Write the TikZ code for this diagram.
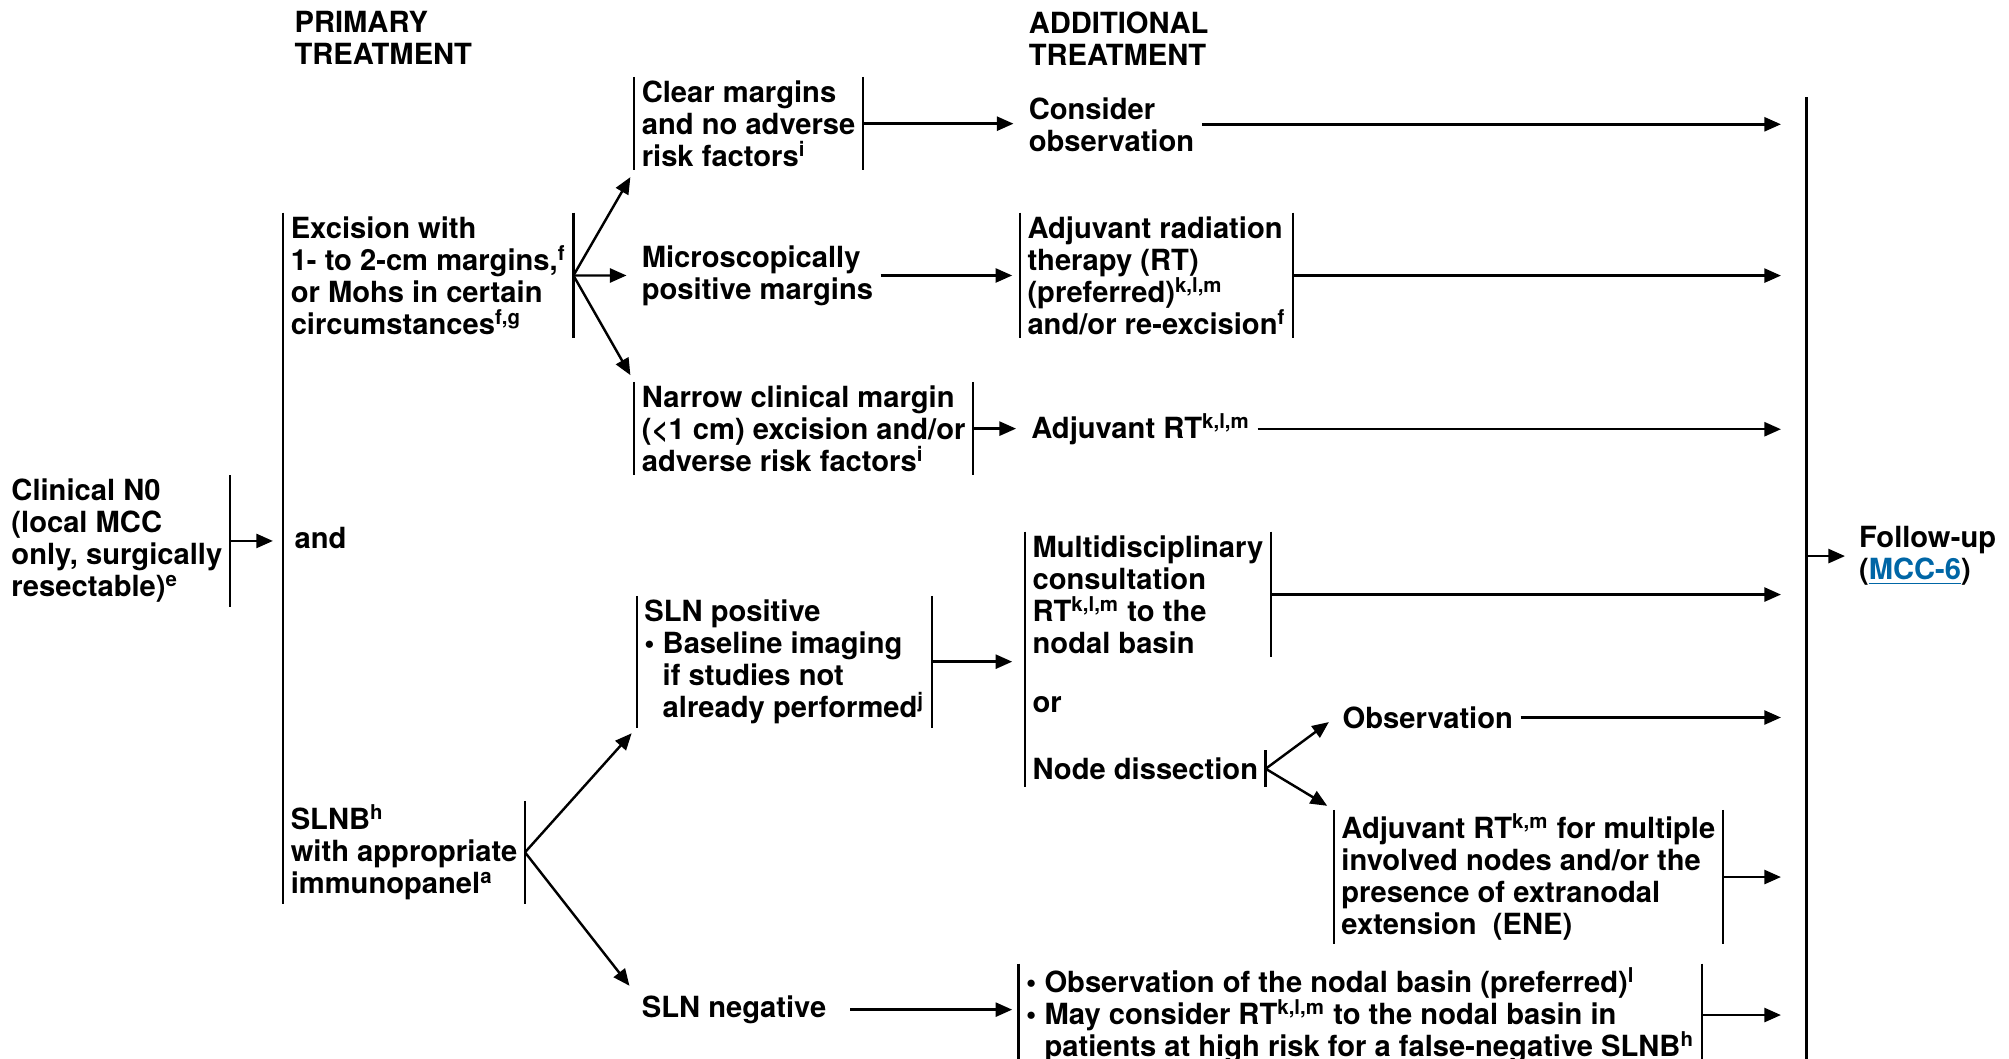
\documentclass[tikz,border=0pt]{standalone}
\usepackage{fontspec}
\setmainfont{TeX Gyre Heros}
\usetikzlibrary{arrows.meta}
\definecolor{linkblue}{RGB}{0,102,166}
\newcommand{\nccn}{\fontsize{11.375}{12.5}\selectfont\bfseries}
\newcommand{\blt}{\textbullet\ }
\newcommand{\bltind}{\hphantom{\textbullet\ }}

\begin{document}
\begin{tikzpicture}[x=0.5pt, y=-0.5pt, line width=0.95pt,
	every node/.style={font=\nccn, align=left, inner xsep=2.5pt, inner ysep=1pt},
	lb/.style={append after command={(\tikzlastnode.north west) edge (\tikzlastnode.south west)}},
	rb/.style={append after command={(\tikzlastnode.north east) edge (\tikzlastnode.south east)}},
	bx/.style={lb, rb},
	arr/.style={-{Triangle[length=6.5pt,width=5.5pt]}, shorten >=3pt}]
\useasboundingbox (0,0) rectangle (1568,826);
% headings
\node[anchor=north west] (prim) at (224,6) {PRIMARY\\TREATMENT};
\node[anchor=north west] (addl) at (797,6) {ADDITIONAL\\TREATMENT};
% primary treatment
\node[rb, anchor=north west] (clin) at (3,371) {Clinical N0\\(local MCC\\only, surgically\\resectable)\textsuperscript{e}};
\node[rb, anchor=north west] (exc) at (221,166) {Excision with\\1- to 2-cm margins,\textsuperscript{f}\\or Mohs in certain\\circumstances\textsuperscript{f,g}};
\node[anchor=west] (andtxt) at (224,420) {and};
\node[rb, anchor=north west] (slnb) at (221,625) {SLNB\textsuperscript{h}\\with appropriate\\immunopanel\textsuperscript{a}};
\coordinate (andbar) at (221,420);
\draw (exc.north west) -- (slnb.south west);
% margins
\node[bx, anchor=north west] (clear) at (495,60) {Clear margins\\and no adverse\\risk factors\textsuperscript{i}};
\node[anchor=west] (micro) at (495,215) {Microscopically\\positive margins};
\node[bx, anchor=north west] (narrow) at (495,298) {Narrow clinical margin\\(<1 cm) excision and/or\\adverse risk factors\textsuperscript{i}};
\node[anchor=west] (consider) at (797,97) {Consider\\observation};
\node[bx, anchor=north west] (radiation) at (796,166) {Adjuvant radiation\\therapy (RT)\\(preferred)\textsuperscript{k,l,m}\\and/or re-excision\textsuperscript{f}};
\node[anchor=west] (adjrt) at (799,335) {Adjuvant RT\textsuperscript{k,l,m}};
% sentinel node
\node[bx, anchor=north west] (slnpos) at (497,465) {SLN positive\\\blt Baseline imaging\\\bltind if studies not\\\bltind already performed\textsuperscript{j}};
\node[rb, anchor=north west] (multi) at (800,415) {Multidisciplinary\\consultation\\RT\textsuperscript{k,l,m} to the\\nodal basin};
\node[anchor=west] (ortxt) at (800,550) {or};
\node[rb, anchor=west, inner ysep=2.5pt] (nodediss) at (800,600) {Node dissection};
\draw (multi.north west) -- (nodediss.south west);
\node[anchor=west] (obs) at (1042,560) {Observation};
\node[bx, anchor=north west] (adjrt2) at (1041,632) {Adjuvant RT\textsuperscript{k,m} for multiple\\involved nodes and/or the\\presence of extranodal\\extension\ \ (ENE)};
\node[anchor=west] (slnneg) at (495,788) {SLN negative};
\node[bx, anchor=north west] (negbox) at (795,752) {\blt Observation of the nodal basin (preferred)\textsuperscript{l}\\\blt May consider RT\textsuperscript{k,l,m} to the nodal basin in\\\bltind patients at high risk for a false-negative SLNB\textsuperscript{h}};
% follow-up
\coordinate (futop) at (1410,76);
\coordinate (fubot) at (1410,840);
\draw (futop) -- (fubot);
\node[anchor=west] (follow) at (1445,434) {Follow-up\\(\textcolor{linkblue}{\underline{MCC-6}})};

\draw[arr, shorten >=4pt] (clin.east) -- (clin.east -| andbar);
\draw[arr] (exc.east) -- (clear.south west);
\draw[arr] (exc.east) -- (micro.west);
\draw[arr] (exc.east) -- (narrow.north west);
\draw[arr] (clear.east) -- (clear.east -| consider.west);
\draw[arr] (micro.east) -- (micro.east -| radiation.west);
\draw[arr] (narrow.east) -- (narrow.east -| adjrt.west);
\draw[arr] (slnb.east) -- (slnpos.south west);
\draw[arr] (slnb.east) -- (slnneg.north west);
\draw[arr, shorten >=5pt] (slnpos.east) -- (slnpos.east -| multi.west);
\draw[arr] (nodediss.east) -- (obs.west);
\draw[arr] (nodediss.east) -- (adjrt2.north west);
\draw[arr, shorten <=6.5pt, shorten >=2.5pt] (slnneg.east) -- (slnneg.east -| negbox.west);
\foreach \src in {consider, radiation, adjrt, multi, obs, adjrt2, negbox}
	\draw[arr, shorten >=10pt] (\src.east) -- (\src.east -| futop);
\draw[arr, shorten >=2.5pt] (follow.west -| futop) -- (follow.west);
\end{tikzpicture}
\end{document}
